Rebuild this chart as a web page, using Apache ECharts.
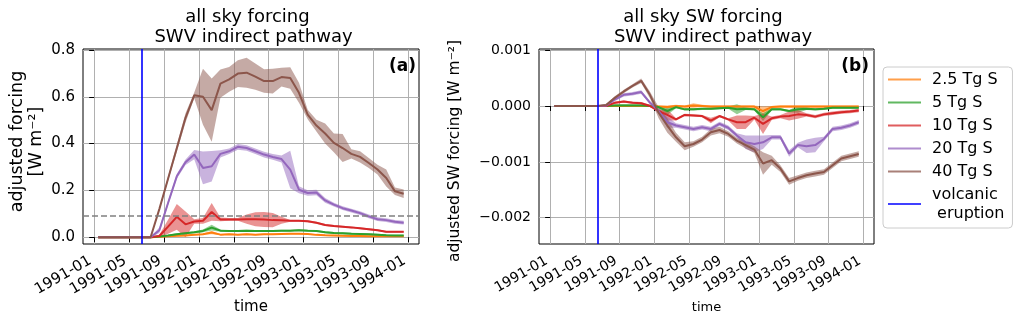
<!DOCTYPE html>
<html>
<head>
<meta charset="utf-8">
<script src="https://cdn.jsdelivr.net/npm/echarts@6.0.0/dist/echarts.min.js"></script>
<style>
  html, body { margin: 0; padding: 0; background: #fff; }
  #chart { width: 1023px; height: 323px; }
</style>
</head>
<body>
<div id="chart"></div>
<script>
// monthly means (mid-month), Jan 1991 .. Dec 1993
const months = [];
for (let y = 1991; y <= 1993; y++) {
    for (let m = 1; m <= 12; m++) months.push(y + '-' + String(m).padStart(2, '0') + '-15');
}
const xTickLabels = ['1991-01', '1991-05', '1991-09', '1992-01', '1992-05', '1992-09', '1993-01', '1993-05', '1993-09', '1994-01'];
const yTicksA = [0, 0.2, 0.4, 0.6, 0.8];
const yTicksB = [-0.002, -0.001, 0, 0.001];
const eruptionDate = '1991-06-15';
const thresholdA = 0.09;
const seriesNames = ['2.5 Tg S', '5 Tg S', '10 Tg S', '20 Tg S', '40 Tg S'];

// panel (a): all sky forcing, mean and half-width of the shaded band
const orangeA = [0,0,0,0,0,0,0,0.002,0.004,0.006,0.007,0.01,0.013,0.02,0.011,0.013,0.011,0.013,0.011,0.013,0.013,0.014,0.015,0.015,0.014,0.01,0.008,0.007,0.006,0.005,0.005,0.004,0.004,0.004,0.004,0.004];
const orangeSprA = [0.001,0.001,0.001,0.001,0.001,0.001,0.001,0.002,0.003,0.003,0.003,0.003,0.003,0.007,0.003,0.003,0.003,0.003,0.003,0.003,0.003,0.003,0.003,0.003,0.003,0.003,0.003,0.003,0.003,0.003,0.003,0.003,0.003,0.003,0.003,0.003];
const greenA = [0,0,0,0,0,0,0,0.003,0.007,0.013,0.017,0.021,0.027,0.041,0.028,0.027,0.027,0.028,0.027,0.027,0.027,0.028,0.028,0.03,0.028,0.027,0.021,0.018,0.017,0.015,0.014,0.013,0.011,0.008,0.007,0.007];
const greenSprA = [0.002,0.002,0.002,0.002,0.002,0.002,0.002,0.003,0.004,0.004,0.004,0.004,0.006,0.012,0.005,0.004,0.004,0.004,0.004,0.004,0.004,0.004,0.004,0.004,0.004,0.004,0.004,0.004,0.004,0.004,0.004,0.004,0.004,0.004,0.004,0.004];
const redA = [0,0,0,0,0,0,0,0.005,0.045,0.087,0.055,0.067,0.07,0.108,0.076,0.076,0.076,0.077,0.077,0.076,0.073,0.072,0.07,0.07,0.068,0.062,0.052,0.048,0.045,0.042,0.038,0.034,0.03,0.023,0.023,0.023];
const redSprA = [0.002,0.002,0.002,0.002,0.002,0.002,0.002,0.005,0.03,0.055,0.055,0.01,0.012,0.038,0.008,0.006,0.006,0.02,0.03,0.032,0.03,0.015,0.004,0.004,0.004,0.004,0.004,0.004,0.004,0.004,0.004,0.004,0.004,0.004,0.004,0.004];
const purpleA = [0,0,0,0,0,0,0,0.03,0.146,0.26,0.32,0.353,0.296,0.303,0.356,0.367,0.386,0.381,0.367,0.353,0.343,0.334,0.289,0.203,0.189,0.191,0.157,0.139,0.124,0.114,0.103,0.089,0.077,0.073,0.066,0.062];
const purpleSprA = [0.002,0.002,0.002,0.002,0.002,0.002,0.002,0.012,0.01,0.01,0.012,0.02,0.07,0.065,0.015,0.012,0.012,0.012,0.012,0.012,0.012,0.015,0.08,0.015,0.012,0.012,0.01,0.008,0.008,0.008,0.008,0.008,0.008,0.008,0.008,0.008];
const brownA = [0,0,0,0,0,0,0,0.12,0.25,0.38,0.51,0.606,0.6,0.543,0.656,0.674,0.699,0.703,0.686,0.667,0.667,0.684,0.68,0.617,0.524,0.477,0.443,0.403,0.381,0.356,0.343,0.317,0.289,0.253,0.196,0.186];
const brownSprA = [0.002,0.002,0.002,0.002,0.002,0.002,0.002,0.005,0.01,0.015,0.02,0.012,0.12,0.135,0.06,0.053,0.057,0.064,0.056,0.05,0.053,0.04,0.046,0.043,0.02,0.025,0.043,0.04,0.06,0.02,0.024,0.021,0.021,0.036,0.016,0.018];

// panel (b): all sky SW forcing
const orangeB = [0,0,0,0,0,0,0,0,0,0,0,0,-0.00001,-0.00002,0,-0.00001,0.00001,0,-0.00001,-0.00001,-0.00001,-0.00001,-0.00001,-0.00001,-0.00009,-0.00002,-0.00001,-0.00001,-0.00001,-0.00001,-0.00001,-0.00001,-0.00001,-0.00001,-0.00001,-0.00001];
const orangeSprB = [0.00001,0.00001,0.00001,0.00001,0.00001,0.00001,0.00001,0.00002,0.00002,0.00002,0.00002,0.00002,0.00002,0.00003,0.00002,0.00002,0.00004,0.00002,0.00002,0.00002,0.00002,0.00002,0.00002,0.00002,0.00008,0.00002,0.00002,0.00002,0.00002,0.00002,0.00002,0.00002,0.00002,0.00002,0.00002,0.00002];
const greenB = [0,0,0,0,0,0,0,0.00001,0.00001,0.00001,0.00001,0,-0.00002,-0.00009,-0.00002,-0.00006,-0.00006,-0.00005,-0.00005,-0.00004,-0.00003,-0.00006,-0.00005,-0.00006,-0.0002,-0.00006,-0.00006,-0.00009,-0.00006,-0.00005,-0.00006,-0.00005,-0.00003,-0.00003,-0.00003,-0.00003];
const greenSprB = [0.00001,0.00001,0.00001,0.00001,0.00001,0.00001,0.00001,0.00002,0.00002,0.00002,0.00002,0.00002,0.00002,0.00007,0.00002,0.00002,0.00002,0.00002,0.00002,0.00002,0.00002,0.00009,0.00002,0.00002,0.00007,0.00002,0.00002,0.00002,0.00006,0.00002,0.00002,0.00002,0.00002,0.00002,0.00002,0.00002];
const redB = [0,0,0,0,0,0,0,0.00006,0.00008,0.00006,0.00005,0,-0.00009,-0.00016,-0.00024,-0.00016,-0.00017,-0.00018,-0.00026,-0.00018,-0.00024,-0.00029,-0.00029,-0.00021,-0.00032,-0.00022,-0.00019,-0.00018,-0.00015,-0.00016,-0.00019,-0.00015,-0.00013,-0.00011,-0.0001,-0.00008];
const redSprB = [0.00001,0.00001,0.00001,0.00001,0.00001,0.00001,0.00001,0.00002,0.00002,0.00002,0.00002,0.00002,0.00002,0.0001,0.00002,0.00002,0.00002,0.00002,0.00005,0.00002,0.00002,0.00012,0.00012,0.00003,0.00018,0.00003,0.00003,0.00008,0.00008,0.00003,0.00003,0.00003,0.00003,0.00003,0.00003,0.00003];
const purpleB = [0,0,0,0,0,0,0.00001,0.00012,0.0002,0.00022,0.00025,0.00006,-0.00009,-0.00029,-0.00035,-0.00038,-0.00041,-0.00038,-0.00041,-0.00032,-0.00039,-0.00053,-0.00065,-0.00068,-0.00065,-0.00056,-0.00056,-0.00085,-0.0007,-0.00072,-0.0007,-0.00059,-0.00041,-0.00039,-0.00035,-0.00029];
const purpleSprB = [0.00001,0.00001,0.00001,0.00001,0.00001,0.00001,0.00001,0.00003,0.00003,0.00003,0.00003,0.00003,0.00005,0.0001,0.00004,0.00004,0.00004,0.00004,0.00004,0.00004,0.00004,0.00004,0.00012,0.00015,0.00012,0.00004,0.00004,0.00006,0.00004,0.00012,0.00013,0.00004,0.00004,0.00004,0.00004,0.00004];
const brownB = [0,0,0,0,0,0,0.00002,0.00015,0.00026,0.00036,0.00045,0.0002,-0.00012,-0.00035,-0.00056,-0.00072,-0.00068,-0.0006,-0.00047,-0.00043,-0.0005,-0.00062,-0.0007,-0.00078,-0.00103,-0.00097,-0.00112,-0.00135,-0.00129,-0.00124,-0.00121,-0.00118,-0.00106,-0.00094,-0.0009,-0.00086];
const brownSprB = [0.00001,0.00001,0.00001,0.00001,0.00001,0.00001,0.00002,0.00003,0.00003,0.00003,0.00004,0.00006,0.0001,0.00013,0.00008,0.00007,0.00005,0.00005,0.00006,0.00006,0.00005,0.00005,0.00006,0.00006,0.0002,0.00008,0.00006,0.00006,0.00005,0.00005,0.00005,0.00005,0.00005,0.00005,0.00005,0.00005];

const FONT = 'DejaVu Sans';
const colors = ['#ff7f0e', '#2ca02c', '#d62728', '#9467bd', '#8c564b'];
const eruptionName = 'volcanic\n eruption';

// month position on the x axis: months since 1991-01-01
function monthPos(s) {
    const p = s.split('-').map(Number);
    return (p[0] - 1991) * 12 + (p[1] - 1) + ((p[2] || 1) - 1) / 30;
}
const xs = months.map(monthPos);
const xTickVals = xTickLabels.map(monthPos);

// shaded spread: one polygon per experiment
function bandSeries(idx, color, mean, spr) {
    return {
        type: 'custom',
        xAxisIndex: idx, yAxisIndex: idx,
        silent: true,
        clip: true,
        data: mean.map((v, i) => [xs[i], v - spr[i], v + spr[i]]),
        encode: { x: 0, y: [1, 2] },
        renderItem: (params, api) => {
            if (params.dataIndex !== 0) return null;
            const up = [], lo = [];
            for (let i = 0; i < mean.length; i++) {
                up.push(api.coord([xs[i], mean[i] + spr[i]]));
                lo.push(api.coord([xs[i], mean[i] - spr[i]]));
            }
            return {
                type: 'polygon',
                shape: { points: up.concat(lo.reverse()) },
                style: { fill: color, opacity: 0.5 }
            };
        }
    };
}

function lineSeries(idx, name, color, mean) {
    return {
        name: name,
        type: 'line',
        xAxisIndex: idx, yAxisIndex: idx,
        data: mean.map((v, i) => [xs[i], v]),
        symbol: 'none',
        showSymbol: false,
        itemStyle: { color: color },
        lineStyle: { color: color, width: 2 }
    };
}

function panel(idx, sets) {
    const out = [];
    sets.forEach((s, k) => {
        out.push(bandSeries(idx, colors[k], s[0], s[1]));
        out.push(lineSeries(idx, seriesNames[k], colors[k], s[0]));
    });
    return out;
}

const series = []
    .concat(panel(0, [[orangeA, orangeSprA], [greenA, greenSprA], [redA, redSprA], [purpleA, purpleSprA], [brownA, brownSprA]]))
    .concat(panel(1, [[orangeB, orangeSprB], [greenB, greenSprB], [redB, redSprB], [purpleB, purpleSprB], [brownB, brownSprB]]));

// dashed reference line (a)
series.push({
    type: 'line', xAxisIndex: 0, yAxisIndex: 0, data: [], z: 5,
    markLine: {
        silent: true, symbol: ['none', 'none'], label: { show: false }, animation: false,
        lineStyle: { color: '#808080', type: [6, 3], width: 1.5 },
        data: [{ yAxis: thresholdA }]
    }
});
// eruption line in both panels
[0, 1].forEach(idx => {
    series.push({
        name: eruptionName,
        type: 'line', xAxisIndex: idx, yAxisIndex: idx, data: [], z: 6,
        symbol: 'none',
        itemStyle: { color: '#0000ff' },
        lineStyle: { color: '#0000ff', width: 2 },
        markLine: {
            silent: true, symbol: ['none', 'none'], label: { show: false }, animation: false,
            lineStyle: { color: '#0000ff', opacity: 0.8, type: 'solid', width: 2 },
            data: [{ xAxis: monthPos(eruptionDate) }]
        }
    });
});

function xAxis(idx, fontSize, nameSize, nameGap) {
    return {
        type: 'value', gridIndex: idx,
        min: -1.28, max: 37.22,
        name: 'time', nameLocation: 'middle', nameGap: nameGap, nameMoveOverlap: false,
        nameTextStyle: { fontFamily: FONT, fontSize: nameSize, color: '#000' },
        axisLine: { show: false },
        axisTick: { show: true, length: 5, customValues: xTickVals, lineStyle: { color: '#000', width: 1 } },
        axisLabel: {
            customValues: xTickVals,
            formatter: v => xTickLabels[xTickVals.indexOf(v)] || '',
            rotate: 30, align: 'right', verticalAlign: 'bottom', margin: 22,
            fontFamily: FONT, fontSize: fontSize, color: '#000'
        },
        splitLine: { show: true, lineStyle: { color: '#b0b0b0', width: 1 } }
    };
}

function yAxis(idx, min, max, ticks, fmt, fontSize, name, nameSize, nameGap, namePad) {
    return {
        type: 'value', gridIndex: idx,
        min: min, max: max,
        name: name, nameLocation: 'middle', nameRotate: 90, nameGap: nameGap, nameMoveOverlap: false,
        nameTextStyle: { fontFamily: FONT, fontSize: nameSize, lineHeight: 19, color: '#000', padding: namePad },
        axisLine: { show: false },
        axisTick: { show: true, length: 5, customValues: ticks, lineStyle: { color: '#000', width: 1 } },
        axisLabel: {
            customValues: ticks, formatter: fmt, margin: 8,
            fontFamily: FONT, fontSize: fontSize, color: '#000'
        },
        splitLine: { show: true, lineStyle: { color: '#b0b0b0', width: 1 } }
    };
}

function text(str, x, y, size, weight, align) {
    return {
        type: 'text', x: x, y: y, z: 100,
        style: {
            text: str, fill: '#000',
            font: (weight || 'normal') + ' ' + size + 'px "' + FONT + '"',
            textAlign: align || 'center', align: align || 'center',
            textVerticalAlign: 'middle', verticalAlign: 'middle'
        }
    };
}

const chart = echarts.init(document.getElementById('chart'), null, { renderer: 'canvas' });
chart.setOption({
    animation: false,
    backgroundColor: '#fff',
    textStyle: { fontFamily: FONT },
    grid: [
        { left: 83, right: 604, top: 49, bottom: 79, show: true, borderColor: '#000', borderWidth: 1, containLabel: false, outerBoundsMode: 'none' },
        { left: 539, right: 149, top: 49, bottom: 79, show: true, borderColor: '#000', borderWidth: 1, containLabel: false, outerBoundsMode: 'none' }
    ],
    xAxis: [xAxis(0, 15, 15, 56), xAxis(1, 14, 13, 57)],
    yAxis: [
        yAxis(0, -0.029, 0.804, yTicksA, v => v.toFixed(1), 15, 'adjusted forcing\n[W m⁻²]', 17.5, 37, [0, 0, 0, 10]),
        yAxis(1, -0.00247, 0.00102, yTicksB, v => v.toFixed(3).replace('-', '\u2212'), 14, 'adjusted SW forcing [W m⁻²]', 15.5, 75, [0, 9, 0, 0])
    ],
    legend: {
        orient: 'vertical', left: 883, top: 67,
        data: seriesNames.concat([eruptionName]).map(n => ({ name: n, itemStyle: { opacity: 0.75 } })),
        icon: 'rect', itemWidth: 33, itemHeight: 2, itemGap: 4,
        padding: [3, 8, 5, 5],
        borderColor: '#cccccc', borderWidth: 1, borderRadius: 4, backgroundColor: '#fff',
        selectedMode: false,
        textStyle: { fontFamily: FONT, fontSize: 16, lineHeight: 19, color: '#000', padding: [0, 0, 0, 6] }
    },
    graphic: [
        text('all sky forcing', 247.5, 17, 18),
        text('SWV indirect pathway', 253.5, 37, 18),
        text('all sky SW forcing', 703, 17, 18),
        text('SWV indirect pathway', 713, 37, 18),
        text('(a)', 416, 67, 17, 'bold', 'right'),
        text('(b)', 869, 67, 17, 'bold', 'right')
    ],
    series: series
});
</script>
</body>
</html>
